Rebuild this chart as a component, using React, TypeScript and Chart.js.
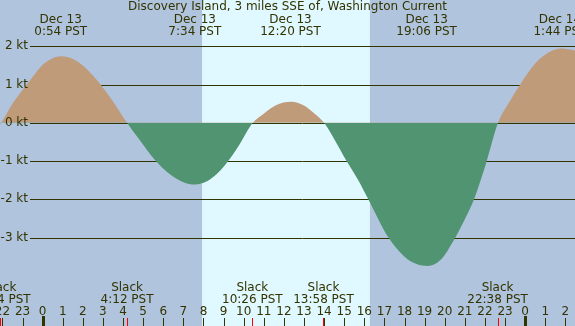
import React, { useEffect, useRef } from 'react';
import { Chart, registerables } from 'chart.js';

Chart.register(...registerables);

// ---- data (hours from midnight Dec 13, PST; current speed in knots) ----
const hours = [
  -2.12, -2.07, -1.5, -1.0, -0.5, 0.0, 0.5, 0.92, 1.5, 2.0, 2.5, 2.85, 3.5, 4.2,
  4.8, 5.6, 6.2, 7.0, 7.57, 8.2, 8.7, 9.2, 9.8, 10.45,
  11.0, 11.6, 12.35, 13.0, 13.5, 14.0,
  14.5, 15.12, 15.7, 16.2, 17.2, 18.0, 18.6, 19.15, 19.8, 20.5, 21.0, 21.46, 22.09, 22.65,
  23.2, 23.75, 24.5, 25.2, 25.8, 26.48,
];
const knots = [
  -0.03, 0.0, 0.5, 0.86, 1.2, 1.52, 1.69, 1.74, 1.67, 1.5, 1.24, 1.02, 0.56, 0.0,
  -0.43, -0.98, -1.29, -1.55, -1.61, -1.52, -1.32, -1.02, -0.56, 0.0,
  0.24, 0.46, 0.55, 0.45, 0.25, 0.0,
  -0.42, -1.0, -1.5, -2.0, -3.0, -3.5, -3.69, -3.74, -3.58, -3.02, -2.52, -2.0, -1.0, 0.0,
  0.53, 1.0, 1.55, 1.85, 1.94, 1.89,
];

const ktTicks = [2, 1, 0, -1, -2, -3];
const hourTicks = [-2, -1, 0, 1, 2, 3, 4, 5, 6, 7, 8, 9, 10, 11, 12, 13, 14, 15, 16, 17, 18, 19, 20, 21, 22, 23, 24, 25, 26];
const midnights = [0, 24];
const daylight = [7.93, 16.28];

const maxTimes = [0.9, 7.57, 12.33, 19.1, 25.73];
const maxDates = ['Dec 13', 'Dec 13', 'Dec 13', 'Dec 13', 'Dec 14'];
const maxLabels = ['0:54 PST', '7:34 PST', '12:20 PST', '19:06 PST', '1:44 PST'];

const slackTimes = [-2.1, 4.2, 10.43, 13.97, 22.63];
const slackLabels = ['21:54 PST', '4:12 PST', '10:26 PST', '13:58 PST', '22:38 PST'];

const title = 'Discovery Island, 3 miles SSE of, Washington Current';

const X_MIN = -2.12;
const X_MAX = 26.48;
const Y_MIN = -5.31;
const Y_MAX = 3.21;

const W = 575;
const H = 326;
const NIGHT = '#b0c4de';
const DAY = '#e0f8ff';
const FLOOD = '#bf9b7a';
const EBB = '#519471';
const INK = '#333300';
const FONT = '12px "DejaVu Sans"';

const overlay = {
  id: 'overlay',
  beforeDraw(chart: any) {
    const { ctx } = chart;
    const xs = chart.scales.x;
    const ys = chart.scales.y;
    ctx.save();
    ctx.fillStyle = NIGHT;
    ctx.fillRect(0, 0, W, H);
    const d0 = xs.getPixelForValue(daylight[0]);
    const d1 = xs.getPixelForValue(daylight[1]);
    ctx.fillStyle = DAY;
    ctx.fillRect(d0, 0, d1 - d0, H);
    ctx.strokeStyle = INK;
    ctx.lineWidth = 1;
    for (const v of ktTicks) {
      const y = Math.round(ys.getPixelForValue(v)) + 0.5;
      ctx.beginPath();
      ctx.moveTo(30, y);
      ctx.lineTo(W, y);
      ctx.stroke();
    }
    ctx.restore();
  },
  afterDatasetsDraw(chart: any) {
    const { ctx } = chart;
    const xs = chart.scales.x;
    const ys = chart.scales.y;
    ctx.save();
    ctx.font = FONT;
    ctx.fillStyle = INK;
    ctx.textBaseline = 'middle';
    // y labels
    ctx.textAlign = 'right';
    for (const v of ktTicks) {
      ctx.fillText(`${v} kt`, 28, ys.getPixelForValue(v));
    }
    ctx.textAlign = 'center';
    // title
    ctx.fillText(title, W / 2, 7);
    // max labels
    maxTimes.forEach((t, i) => {
      const x = xs.getPixelForValue(t);
      ctx.fillText(maxDates[i], x, 19.5);
      ctx.fillText(maxLabels[i], x, 31.5);
    });
    // slack labels
    slackTimes.forEach((t, i) => {
      const x = xs.getPixelForValue(t);
      ctx.fillText('Slack', x, 287.5);
      ctx.fillText(slackLabels[i], x, 299.5);
    });
    // hour labels and ticks
    ctx.strokeStyle = INK;
    ctx.lineWidth = 1;
    for (const h of hourTicks) {
      const px = xs.getPixelForValue(h);
      ctx.fillText(String(((h % 24) + 24) % 24), px, 312);
      const x = Math.round(px) + 0.5;
      ctx.beginPath();
      ctx.moveTo(x, 318);
      ctx.lineTo(x, H);
      ctx.stroke();
    }
    for (const m of midnights) {
      const x = Math.round(xs.getPixelForValue(m));
      ctx.fillRect(x - 1, 316, 3, H - 316);
    }
    ctx.strokeStyle = '#ff0000';
    for (const s of slackTimes) {
      const x = Math.round(xs.getPixelForValue(s)) + 0.5;
      ctx.beginPath();
      ctx.moveTo(x, 318);
      ctx.lineTo(x, H);
      ctx.stroke();
    }
    ctx.restore();
  },
};

export default function App() {
  const ref = useRef<HTMLCanvasElement>(null);
  useEffect(() => {
    document.body.style.margin = '0';
    const canvas = ref.current!;
    const chart = new Chart(canvas, {
      type: 'line',
      data: {
        datasets: [
          {
            data: hours.map((h, i) => ({ x: h, y: knots[i] })),
            borderColor: 'rgba(0,0,0,0)',
            borderWidth: 0,
            pointRadius: 0,
            cubicInterpolationMode: 'monotone',
            fill: { target: { value: 0 }, above: FLOOD, below: EBB },
          } as any,
        ],
      },
      options: {
        responsive: false,
        animation: false,
        devicePixelRatio: 1,
        layout: { padding: 0 },
        events: [],
        plugins: { legend: { display: false }, tooltip: { enabled: false }, title: { display: false } },
        scales: {
          x: { type: 'linear', min: X_MIN, max: X_MAX, display: false },
          y: { type: 'linear', min: Y_MIN, max: Y_MAX, display: false },
        },
      },
      plugins: [overlay],
    });
    return () => chart.destroy();
  }, []);
  return (
    <div style={{ width: W, height: H }}>
      <canvas ref={ref} width={W} height={H} style={{ display: 'block' }} />
    </div>
  );
}
